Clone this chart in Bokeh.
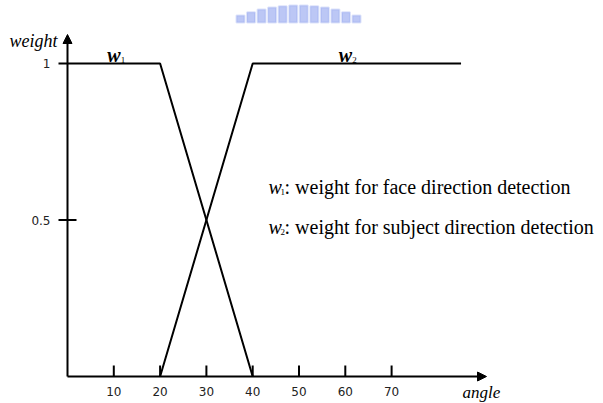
from bokeh.plotting import figure
from bokeh.models import Range1d, Arrow, NormalHead
from bokeh.core.properties import value
from bokeh.embed import file_html
from bokeh.resources import INLINE

# membership-style weights over the angle
angle_w1 = [0, 20, 40]
weight_w1 = [1, 1, 0]
angle_w2 = [20, 40, 85]
weight_w2 = [0, 1, 1]

x_ticks = [10, 20, 30, 40, 50, 60, 70]
x_tick_labels = ["10", "20", "30", "40", "50", "60", "70"]
y_ticks = [0.5, 1]
y_tick_labels = ["0.5", "1"]

legend_lines = [": weight for face direction detection",
                ": weight for subject direction detection"]
legend_subs = ["1", "2"]

W, H = 603, 403
PX_PER_X = 4.63      # pixels per angle unit
PX_PER_Y = 313.0     # pixels per weight unit
ORIGIN_X, ORIGIN_Y = 67, 376

x0 = -ORIGIN_X / PX_PER_X
x1 = x0 + W / PX_PER_X
y1 = ORIGIN_Y / PX_PER_Y
y0 = y1 - H / PX_PER_Y

def dx(px):
    return px / PX_PER_X

def dy(px):
    return px / PX_PER_Y

p = figure(width=W, height=H, x_range=Range1d(x0, x1), y_range=Range1d(y0, y1),
           x_axis_type=None, y_axis_type=None, output_backend="svg",
           toolbar_location=None, min_border=0)
p.outline_line_color = None
p.grid.visible = False
p.background_fill_color = "white"
p.border_fill_color = "white"

# faint blue emblem at the top edge
n_pillars = 12
for i in range(n_pillars):
    t = (i - (n_pillars - 1) / 2) / ((n_pillars - 1) / 2)
    cx = x0 + dx(298 + t * 58)
    top = y1 - dy(5 + 10 * t * t)
    bot = y1 - dy(22)
    p.quad(left=cx - dx(4), right=cx + dx(4), top=top, bottom=bot,
           fill_color="#8fa2ee", fill_alpha=0.6, line_color="#8fa2ee",
           line_alpha=0.3, line_width=2)

BLACK = "black"
LW = 2

# axes with arrow heads
p.add_layout(Arrow(end=NormalHead(size=9, fill_color=BLACK, line_color=BLACK),
                   x_start=0, y_start=0, x_end=dx(486 - ORIGIN_X), y_end=0,
                   line_width=LW, line_color=BLACK))
p.add_layout(Arrow(end=NormalHead(size=9, fill_color=BLACK, line_color=BLACK),
                   x_start=0, y_start=0, x_end=0, y_end=dy(ORIGIN_Y - 34),
                   line_width=LW, line_color=BLACK))

# x ticks point up from the axis
p.segment(x0=x_ticks, y0=[0] * len(x_ticks), x1=x_ticks,
          y1=[dy(11)] * len(x_ticks), line_color=BLACK, line_width=LW)
p.text(x=x_ticks, y=[-dy(15)] * len(x_ticks), text=x_tick_labels,
       text_align="center", text_baseline="middle",
       text_font=value("DejaVu Sans"), text_font_size="12px", text_color="#222222")

# y ticks cross the axis at 0.5, stick out left at 1
p.segment(x0=[-dx(9), -dx(9)], y0=y_ticks, x1=[dx(9), 0], y1=y_ticks,
          line_color=BLACK, line_width=LW)
p.text(x=[-dx(17)] * len(y_ticks), y=y_ticks, text=y_tick_labels,
       text_align="right", text_baseline="middle",
       text_font=value("DejaVu Sans"), text_font_size="12px", text_color="#222222")

# axis titles
p.text(x=[-dx(10)], y=[dy(ORIGIN_Y - 40)], text=["weight"], text_align="right",
       text_baseline="middle", text_font=value("Liberation Serif"),
       text_font_style="italic", text_font_size="18px", text_color=BLACK)
p.text(x=[dx(462 - ORIGIN_X)], y=[-dy(16)], text=["angle"], text_align="left",
       text_baseline="middle", text_font=value("Liberation Serif"),
       text_font_style="italic", text_font_size="17px", text_color=BLACK)

# weight curves
p.line(angle_w1, weight_w1, line_color=BLACK, line_width=LW)
p.line(angle_w2, weight_w2, line_color=BLACK, line_width=LW)

# curve names above the plateaus
for cx, sub in [(10, "1"), (60, "2")]:
    p.text(x=[cx], y=[1 + dy(9)], text=["w"], text_align="center",
           text_baseline="middle", text_font=value("Liberation Serif"),
           text_font_style="bold italic", text_font_size="20px", text_color=BLACK)
    p.text(x=[cx], y=[1 + dy(9)], text=[sub], x_offset=7, y_offset=5,
           text_align="left", text_baseline="middle",
           text_font=value("Liberation Serif"), text_font_size="9px",
           text_color=BLACK)

# key explaining the two curves
key_x = dx(268 - ORIGIN_X)
key_y = [dy(ORIGIN_Y - 186.7), dy(ORIGIN_Y - 226.7)]
for ky, sub, line in zip(key_y, legend_subs, legend_lines):
    p.text(x=[key_x], y=[ky], text=["w"], text_align="left", text_baseline="middle",
           text_font=value("Liberation Serif"), text_font_style="italic",
           text_font_size="20px", text_color=BLACK)
    p.text(x=[key_x], y=[ky], text=[sub], x_offset=12, y_offset=5,
           text_align="left", text_baseline="middle",
           text_font=value("Liberation Serif"), text_font_size="9px",
           text_color=BLACK)
    p.text(x=[key_x], y=[ky], text=[line], x_offset=16,
           text_align="left", text_baseline="middle",
           text_font=value("Liberation Serif"), text_font_size="20px",
           text_color=BLACK)

open("out.html", "w").write(file_html(p, INLINE))
